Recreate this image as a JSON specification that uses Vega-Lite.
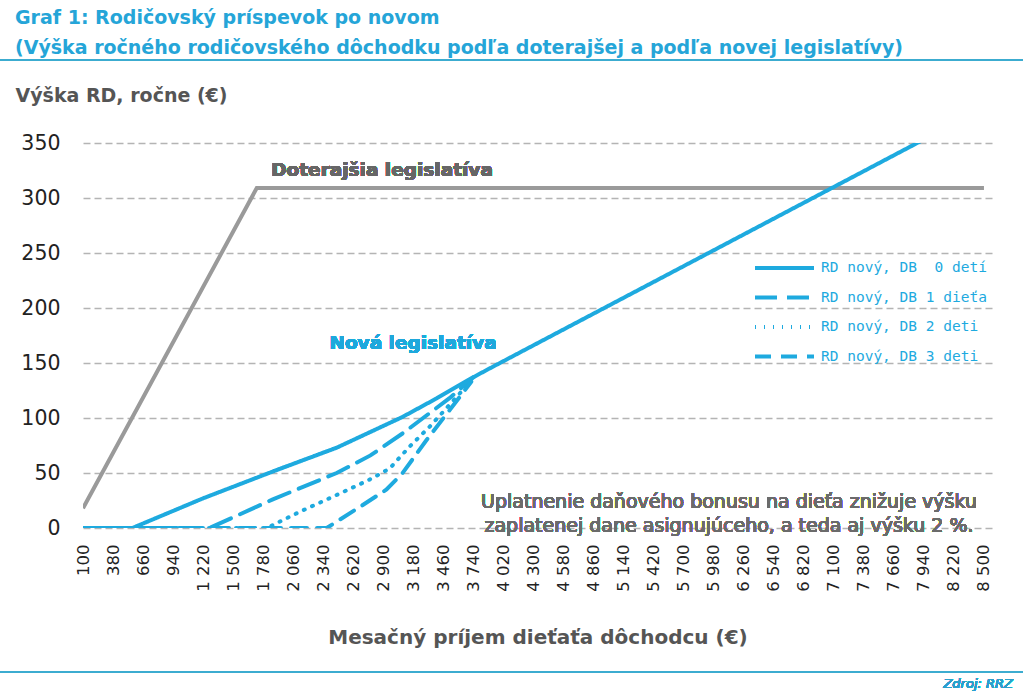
{
  "$schema": "https://vega.github.io/schema/vega-lite/v6.json",
  "width": 909,
  "height": 385,
  "autosize": {"type": "none"},
  "padding": {"left": 83, "top": 143, "right": 31, "bottom": 167},
  "background": "white",
  "config": {"view": {"stroke": null}, "font": "DejaVu Sans", "axis": {"labelOverlap": false}},
  "title": {
    "text": ["Graf 1: Rodičovský príspevok po novom", "(Výška ročného rodičovského dôchodku podľa doterajšej a podľa novej legislatívy)"],
    "anchor": "start",
    "frame": "group",
    "color": "#25a5d8",
    "font": "DejaVu Sans",
    "fontSize": 19,
    "fontWeight": "bold",
    "lineHeight": 30,
    "baseline": "bottom",
    "offset": 28,
    "dy": 46,
    "dx": -68
  },
  "data": {
    "values": [
      {"x": 100, "y": 18, "series": "Doterajšia legislatíva"},
      {"x": 1720, "y": 309, "series": "Doterajšia legislatíva"},
      {"x": 8500, "y": 309, "series": "Doterajšia legislatíva"},
      {"x": 100, "y": 0, "series": "RD nový, DB  0 detí"},
      {"x": 560, "y": 0, "series": "RD nový, DB  0 detí"},
      {"x": 1220, "y": 27, "series": "RD nový, DB  0 detí"},
      {"x": 1860, "y": 51, "series": "RD nový, DB  0 detí"},
      {"x": 2465, "y": 73, "series": "RD nový, DB  0 detí"},
      {"x": 3080, "y": 101, "series": "RD nový, DB  0 detí"},
      {"x": 3400, "y": 118, "series": "RD nový, DB  0 detí"},
      {"x": 3700, "y": 135, "series": "RD nový, DB  0 detí"},
      {"x": 3890, "y": 145, "series": "RD nový, DB  0 detí"},
      {"x": 8500, "y": 382, "series": "RD nový, DB  0 detí"},
      {"x": 100, "y": 0, "series": "RD nový, DB 1 dieťa"},
      {"x": 1280, "y": 0, "series": "RD nový, DB 1 dieťa"},
      {"x": 1870, "y": 26, "series": "RD nový, DB 1 dieťa"},
      {"x": 2465, "y": 50, "series": "RD nový, DB 1 dieťa"},
      {"x": 2780, "y": 66, "series": "RD nový, DB 1 dieťa"},
      {"x": 3080, "y": 86, "series": "RD nový, DB 1 dieťa"},
      {"x": 3517, "y": 118, "series": "RD nový, DB 1 dieťa"},
      {"x": 3740, "y": 137, "series": "RD nový, DB 1 dieťa"},
      {"x": 100, "y": 0, "series": "RD nový, DB 2 deti"},
      {"x": 1813, "y": 0, "series": "RD nový, DB 2 deti"},
      {"x": 2148, "y": 16, "series": "RD nový, DB 2 deti"},
      {"x": 2465, "y": 30, "series": "RD nový, DB 2 deti"},
      {"x": 2772, "y": 44, "series": "RD nový, DB 2 deti"},
      {"x": 2958, "y": 54, "series": "RD nový, DB 2 deti"},
      {"x": 3145, "y": 74, "series": "RD nový, DB 2 deti"},
      {"x": 3331, "y": 92, "series": "RD nový, DB 2 deti"},
      {"x": 3517, "y": 112, "series": "RD nový, DB 2 deti"},
      {"x": 3720, "y": 134, "series": "RD nový, DB 2 deti"},
      {"x": 100, "y": 0, "series": "RD nový, DB 3 deti"},
      {"x": 2372, "y": 0, "series": "RD nový, DB 3 deti"},
      {"x": 2679, "y": 19, "series": "RD nový, DB 3 deti"},
      {"x": 2930, "y": 35, "series": "RD nový, DB 3 deti"},
      {"x": 3080, "y": 50, "series": "RD nový, DB 3 deti"},
      {"x": 3303, "y": 80, "series": "RD nový, DB 3 deti"},
      {"x": 3517, "y": 107, "series": "RD nový, DB 3 deti"},
      {"x": 3720, "y": 133, "series": "RD nový, DB 3 deti"}
    ]
  },
  "encoding": {
    "x": {
      "field": "x", "type": "quantitative",
      "scale": {"domain": [100, 8575], "nice": false, "zero": false},
      "axis": {
        "values": [100, 380, 660, 940, 1220, 1500, 1780, 2060, 2340, 2620, 2900, 3180, 3460, 3740, 4020, 4300, 4580, 4860, 5140, 5420, 5700, 5980, 6260, 6540, 6820, 7100, 7380, 7660, 7940, 8220, 8500],
        "labelExpr": "replace(format(datum.value, ','), ',', ' ')",
        "labelAngle": -90,
        "labelAlign": "right",
        "labelBaseline": "middle",
        "labelFont": "DejaVu Sans",
        "labelFontSize": 16.5,
        "labelColor": "#222222",
        "labelPadding": 16,
        "labelOverlap": false,
        "labelFlush": false,
        "labelSeparation": 0,
        "ticks": false,
        "domain": false,
        "grid": false,
        "title": "Mesačný príjem dieťaťa dôchodcu (€)",
        "titleFont": "DejaVu Sans",
        "titleFontSize": 20,
        "titleFontWeight": "bold",
        "titleColor": "#555555",
        "titleBaseline": "middle",
        "titleY": 109
      }
    },
    "y": {
      "field": "y", "type": "quantitative",
      "scale": {"domain": [0, 350], "nice": false},
      "axis": {
        "values": [0, 50, 100, 150, 200, 250, 300, 350],
        "grid": true,
        "gridDash": [7, 4],
        "gridColor": "#b4b4b4",
        "gridWidth": 1.5,
        "ticks": false,
        "domain": false,
        "labelFont": "DejaVu Sans",
        "labelFontSize": 20.5,
        "labelColor": "#222222",
        "labelPadding": 23,
        "title": "Výška RD, ročne (€)",
        "titleAngle": 0,
        "titleAlign": "left",
        "titleBaseline": "middle",
        "titleX": -68,
        "titleY": -48,
        "titleFont": "DejaVu Sans",
        "titleFontSize": 19,
        "titleFontWeight": "bold",
        "titleColor": "#555555"
      }
    }
  },
  "layer": [
    {
      "transform": [{"filter": "datum.series === 'Doterajšia legislatíva'"}],
      "mark": {"type": "line", "color": "#9a9a9a", "strokeWidth": 4, "clip": true}
    },
    {
      "transform": [{"filter": "datum.series !== 'Doterajšia legislatíva'"}],
      "mark": {"type": "line", "color": "#1eaadf", "strokeWidth": 4, "strokeCap": "round", "clip": true},
      "encoding": {
        "detail": {"field": "series"},
        "strokeDash": {
          "field": "series", "type": "nominal",
          "scale": {
            "domain": ["RD nový, DB  0 detí", "RD nový, DB 1 dieťa", "RD nový, DB 2 deti", "RD nový, DB 3 deti"],
            "range": [[1, 0], [22, 10], [1, 8], [16, 10]]
          },
          "legend": {
            "orient": "none",
            "legendX": 670,
            "legendY": 117.5,
            "title": null,
            "symbolType": "stroke",
            "symbolSize": 3481,
            "symbolStrokeWidth": 4,
            "symbolStrokeColor": "#1eaadf",
            "labelColor": "#1eaadf",
            "labelFont": "DejaVu Sans Mono",
            "labelFontSize": 14.5,
            "labelOffset": 5,
            "labelLimit": 400,
            "clipHeight": 15,
            "rowPadding": 13.5,
            "labelExpr": "replace(datum.label, 'DB  0', 'DB \u00a00')"
          }
        }
      }
    },
    {
      "mark": {"type": "text", "text": "Doterajšia legislatíva", "font": "DejaVu Sans", "fontSize": 18.5, "fontWeight": "bold", "color": "#666666", "align": "center", "baseline": "middle"},
      "encoding": {"x": {"datum": 2888}, "y": {"datum": 325.5}}
    },
    {
      "mark": {"type": "text", "text": "Nová legislatíva", "font": "DejaVu Sans", "fontSize": 18.5, "fontWeight": "bold", "color": "#1ea8dc", "align": "center", "baseline": "middle"},
      "encoding": {"x": {"datum": 3177}, "y": {"datum": 168}}
    },
    {
      "mark": {"type": "text", "text": ["Uplatnenie daňového bonusu na dieťa znižuje výšku", "zaplatenej dane asignujúceho, a teda aj výšku 2 %."], "font": "DejaVu Sans", "fontSize": 19, "fontWeight": "normal", "lineHeight": 24, "color": "#6b6b6b", "align": "center", "baseline": "middle"},
      "encoding": {"x": {"datum": 6123}, "y": {"datum": 23.6}}
    },
    {
      "mark": {"type": "rule", "color": "#3cacd0", "strokeWidth": 2, "clip": false},
      "encoding": {"x": {"datum": -700}, "x2": {"datum": 8900}, "y": {"datum": 425.5}}
    },
    {
      "mark": {"type": "rule", "color": "#3cacd0", "strokeWidth": 2, "clip": false},
      "encoding": {"x": {"datum": -700}, "x2": {"datum": 8900}, "y": {"datum": -130.9}}
    },
    {
      "mark": {"type": "text", "text": "Zdroj: RRZ", "font": "DejaVu Sans", "fontSize": 13, "fontStyle": "italic", "fontWeight": "normal", "color": "#2aa0cc", "align": "right", "baseline": "middle", "clip": false},
      "encoding": {"x": {"datum": 8771}, "y": {"datum": -141.8}}
    }
  ]
}
